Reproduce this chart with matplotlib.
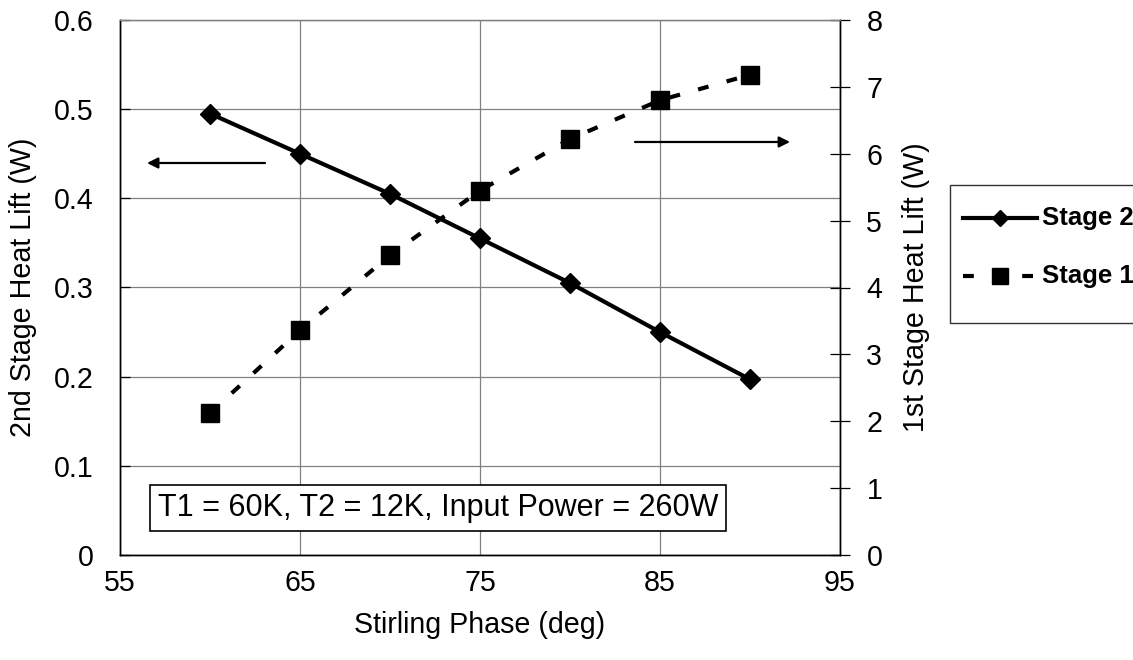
import matplotlib
matplotlib.use("Agg")
import matplotlib.pyplot as plt
from matplotlib.ticker import MultipleLocator
from matplotlib.lines import Line2D
from matplotlib.patches import Rectangle

plt.rcParams['font.family'] = ['Liberation Sans', 'DejaVu Sans']

phase = [60, 65, 70, 75, 80, 85, 90]
stage2 = [0.495, 0.45, 0.405, 0.355, 0.305, 0.25, 0.197]
stage1 = [2.12, 3.36, 4.48, 5.45, 6.22, 6.80, 7.18]
x_ticks = [55, 65, 75, 85, 95]
series_names = ['Stage 2', 'Stage 1']
annotation = "T1 = 60K, T2 = 12K, Input Power = 260W"

W, H = 1133, 660
fig = plt.figure(figsize=(W / 100, H / 100), dpi=100)
ax = fig.add_axes([120 / W, 1 - 555 / H, 720 / W, 535 / H])
ax2 = ax.twinx()

FS = 20.6
grid_c = '#808080'
dash = (0, (2.6, 4.5))

# left axis
ax.set_xlim(55, 95)
ax.set_ylim(0, 0.6)
ax.set_xticks(x_ticks)
ax.yaxis.set_major_locator(MultipleLocator(0.1))
ax.yaxis.set_major_formatter(plt.FuncFormatter(lambda v, p: '0' if abs(v) < 1e-9 else f'{v:.1f}'))
ax.grid(True, color=grid_c, lw=0.9)
ax.set_axisbelow(True)
ax.tick_params(axis='x', length=0, pad=10, labelsize=FS)
ax.tick_params(axis='y', direction='in', length=7, width=0.9, pad=19, labelsize=FS)
ax.set_xlabel('Stirling Phase (deg)', fontsize=FS, labelpad=10)
ax.set_ylabel('2nd Stage Heat Lift (W)', fontsize=FS, labelpad=12)

# right axis
ax2.set_ylim(0, 8)
ax2.yaxis.set_major_locator(MultipleLocator(1))
ax2.tick_params(axis='y', direction='inout', length=14, width=0.9, pad=12, labelsize=FS)
ax2.set_ylabel('1st Stage Heat Lift (W)', fontsize=FS, labelpad=14)

for a in (ax, ax2):
    a.spines['top'].set_color(grid_c)
    a.spines['top'].set_linewidth(0.9)
    for s in ('left', 'bottom', 'right'):
        a.spines[s].set_color('black')
        a.spines[s].set_linewidth(1.0)

ax.plot(phase, stage2, color='black', lw=3, marker='D', markersize=10,
        label=series_names[0], zorder=5)
ax2.plot(phase, stage1, color='black', lw=3, ls=dash, marker='s',
         markersize=13.5, label=series_names[1], zorder=5)

# arrows
arrow_kw = dict(arrowstyle='-|>', lw=1.6, color='black', mutation_scale=16, shrinkA=0, shrinkB=0)
ax.annotate('', xy=(0.0375, 0.7327), xytext=(0.2014, 0.7327), xycoords='axes fraction',
            textcoords='axes fraction', arrowprops=arrow_kw)
ax.annotate('', xy=(0.9306, 0.772), xytext=(0.7153, 0.772), xycoords='axes fraction',
            textcoords='axes fraction', arrowprops=arrow_kw)

ax2.text(0.4417, 0.0879, annotation, transform=ax.transAxes, ha='center', va='center',
         fontsize=22, zorder=10,
         bbox=dict(boxstyle='square,pad=0.26', facecolor='white', edgecolor='black', lw=1.2))

# legend (drawn in figure pixel space)
def fx(px):
    return px / W

def fy(py):
    return 1 - py / H

fig.patches.append(Rectangle((fx(950), fy(323)), fx(1145) - fx(950), fy(185) - fy(323),
                             transform=fig.transFigure, facecolor='white',
                             edgecolor='#333333', lw=1.0, zorder=1))
rows = [218, 276]
styles = [dict(ls='-', marker='D', markersize=7.8), dict(ls=dash, marker='s', markersize=11.5)]
for name, ry, st in zip(series_names, rows, styles):
    fig.lines.append(Line2D([fx(963), fx(1037)], [fy(ry), fy(ry)], transform=fig.transFigure,
                            color='black', lw=3, ls=st['ls'], zorder=2))
    fig.lines.append(Line2D([fx(1000)], [fy(ry)], transform=fig.transFigure, color='black',
                            marker=st['marker'], markersize=st['markersize'], ls='none', zorder=3))
    fig.text(fx(1042), fy(ry), name, fontsize=18.5, fontweight='bold', ha='left', va='center',
             zorder=4)

fig.savefig('out.png', dpi=100)
